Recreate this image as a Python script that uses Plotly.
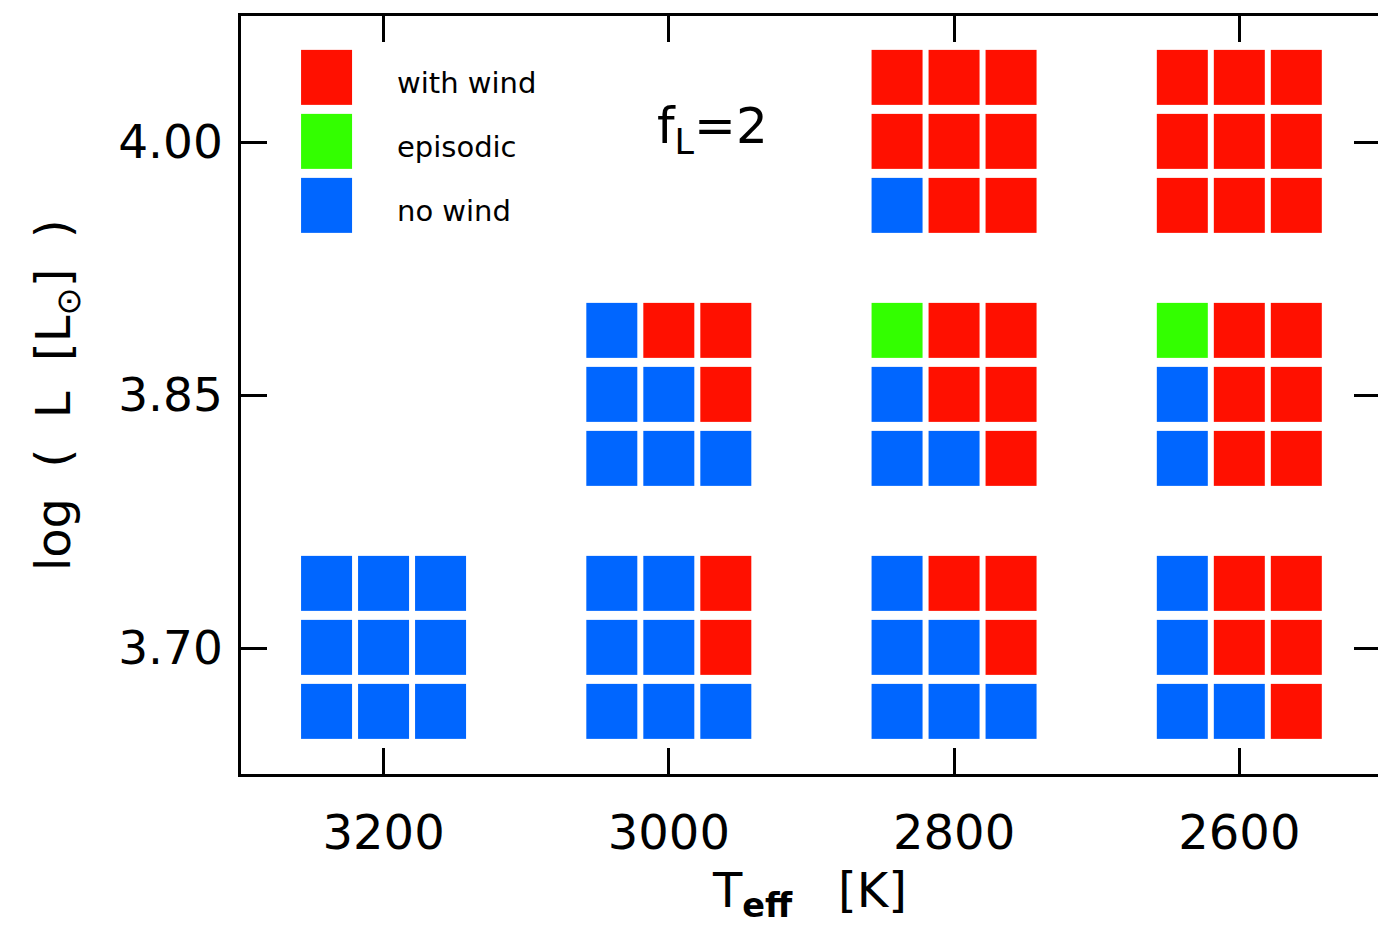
import plotly.graph_objects as go

# ---- data ----
# status codes: 0 = no wind, 1 = episodic, 2 = with wind
teff_groups = [2800, 2600, 3000, 2800, 2600, 3200, 3000, 2800, 2600]
logl_groups = [4.00, 4.00, 3.85, 3.85, 3.85, 3.70, 3.70, 3.70, 3.70]
# each matrix: rows top->bottom, columns left->right (high Teff -> low Teff)
status_grids = [
    [[2, 2, 2], [2, 2, 2], [0, 2, 2]],
    [[2, 2, 2], [2, 2, 2], [2, 2, 2]],
    [[0, 2, 2], [0, 0, 2], [0, 0, 0]],
    [[1, 2, 2], [0, 2, 2], [0, 0, 2]],
    [[1, 2, 2], [0, 2, 2], [0, 2, 2]],
    [[0, 0, 0], [0, 0, 0], [0, 0, 0]],
    [[0, 0, 2], [0, 0, 2], [0, 0, 0]],
    [[0, 2, 2], [0, 0, 2], [0, 0, 0]],
    [[0, 2, 2], [0, 2, 2], [0, 0, 2]],
]
legend_labels = ["with wind", "episodic", "no wind"]
legend_codes = [2, 1, 0]
legend_teff = 3240
legend_logl = 4.00

x_ticks = [3200, 3000, 2800, 2600]
y_ticks = [3.70, 3.85, 4.00]
y_ticklabels = ["3.70", "3.85", "4.00"]

# ---- styling ----
DT = 40.0      # Teff pitch of sub-cells
DL = 0.038     # log L pitch of sub-cells
colorscale = [[0.0, "#0066FF"], [0.5, "#33FF00"], [1.0, "#FF1000"]]
FONT = "DejaVu Sans"
NB = "\u00a0"

fig = go.Figure()

for t0, l0, grid in zip(teff_groups, logl_groups, status_grids):
    z = [row for row in reversed(grid)]  # bottom row first
    fig.add_trace(go.Heatmap(
        z=z, x0=t0 + DT, dx=-DT, y0=l0 - DL, dy=DL,
        colorscale=colorscale, zmin=0, zmax=2, showscale=False,
        xgap=6, ygap=9, hoverinfo="skip"))

# legend squares
leg_z = [[c] for c in reversed(legend_codes)]
fig.add_trace(go.Heatmap(
    z=leg_z, x0=legend_teff, dx=-DT, y0=legend_logl - DL, dy=DL,
    colorscale=colorscale, zmin=0, zmax=2, showscale=False,
    xgap=6, ygap=9, hoverinfo="skip", xaxis="x", yaxis="y"))

# right-side ticks (no line)
fig.add_trace(go.Scatter(x=[None], y=[None], yaxis="y2", showlegend=False))

for i, lab in enumerate(legend_labels):
    fig.add_annotation(x=3192, y=legend_logl + DL - i * DL, text=lab,
                       xref="x", yref="y", xanchor="left", yanchor="middle",
                       showarrow=False, yshift=-5,
                       font=dict(family=FONT, size=29, color="black"))

fig.add_annotation(x=3010, y=4.005, xref="x", yref="y", text="f<sub>L</sub>=2",
                   xanchor="left", yanchor="middle", showarrow=False, yshift=4,
                   font=dict(family=FONT, size=50, color="black"))

fig.add_annotation(x=0.5, y=-0.157, xref="paper", yref="paper",
                   text="T<sub><b>eff</b></sub>" + NB * 3 + "[K]",
                   xanchor="center", yanchor="middle", showarrow=False,
                   font=dict(family=FONT, size=48, color="black"))
fig.add_annotation(x=-0.1626, y=0.5, xref="paper", yref="paper",
                   text="log" + NB * 2 + "(" + NB * 2 + "L" + NB * 2 +
                        "[L<sub>\u2299</sub>]" + NB * 2 + ")",
                   textangle=-90, xanchor="center", yanchor="middle",
                   showarrow=False,
                   font=dict(family=FONT, size=48, color="black"))

fig.update_layout(
    width=1378, height=925,
    margin=dict(l=241, r=0, t=16, b=151),
    paper_bgcolor="white", plot_bgcolor="white",
    showlegend=False,
    xaxis=dict(range=[3300, 2502.8], tickvals=x_ticks,
               ticktext=[str(v) for v in x_ticks],
               showline=True, linecolor="black", linewidth=2.5,
               mirror="ticks", ticks="inside", ticklen=26, tickwidth=2.5,
               tickcolor="black", showgrid=False, zeroline=False,
               ticklabelstandoff=15,
               tickfont=dict(family=FONT, size=48, color="black")),
    yaxis=dict(range=[3.6253, 4.0747], tickvals=y_ticks, ticktext=y_ticklabels,
               showline=True, linecolor="black", linewidth=2.5,
               ticks="inside", ticklen=26, tickwidth=2.5, tickcolor="black",
               showgrid=False, zeroline=False, ticklabelstandoff=6,
               tickfont=dict(family=FONT, size=47, color="black")),
    yaxis2=dict(range=[3.6253, 4.0747], overlaying="y", side="right",
                tickvals=y_ticks, showticklabels=False, showline=False,
                ticks="inside", ticklen=24, tickwidth=2.5, tickcolor="black",
                showgrid=False, zeroline=False),
)

fig.write_html("out.html")
